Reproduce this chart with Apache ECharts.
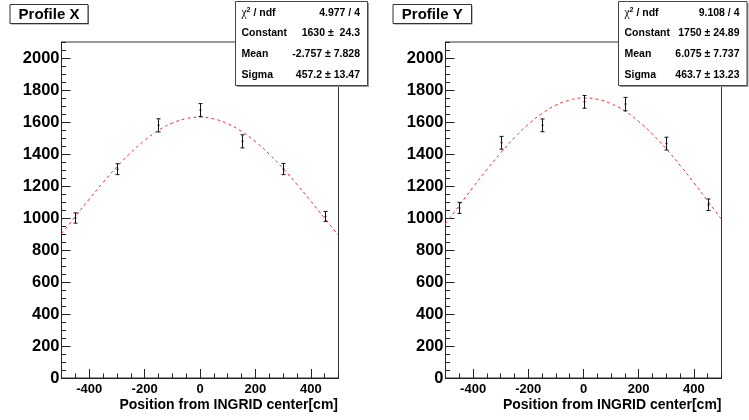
<!DOCTYPE html>
<html><head><meta charset="utf-8">
<script src="https://cdn.jsdelivr.net/npm/echarts@6/dist/echarts.min.js"></script>
<style>html,body{margin:0;padding:0;background:#fff}#c{width:749px;height:420px}</style>
</head><body><div id="c"></div>
<script>
// ---- data ----
const xPositions = [-450, -300, -150, 0, 150, 300, 450];
const profileXValues = [1000, 1305, 1579, 1675, 1479, 1306, 1010];
const profileXErrors = [32, 34, 41, 40, 41, 35, 31];
const profileYValues = [1063, 1470, 1579, 1726, 1712, 1465, 1083];
const profileYErrors = [35, 40, 40, 40, 42, 40, 36];
const fitPositions = [-500, -450, -400, -350, -300, -250, -200, -150, -100, -50, 0, 50, 100, 150, 200, 250, 300, 350, 400, 450, 500];
const fitXValues = [902, 1010, 1118, 1222, 1320, 1408, 1485, 1548, 1593, 1621, 1630, 1619, 1589, 1541, 1477, 1399, 1309, 1210, 1106, 998, 890];
const fitYValues = [965, 1079, 1193, 1303, 1407, 1502, 1585, 1654, 1705, 1737, 1750, 1742, 1714, 1668, 1603, 1524, 1432, 1329, 1220, 1107, 992];
const xTickLabels = [-400, -200, 0, 200, 400];
const yTickLabels = [0, 200, 400, 600, 800, 1000, 1200, 1400, 1600, 1800, 2000];
const panelTitles = ['Profile X', 'Profile Y'];
const statsX = [['4.977 / 4'], ['1630 \u00b1  24.3'], ['-2.757 \u00b1 7.828'], ['457.2 \u00b1 13.47']];
const statsY = [['9.108 / 4'], ['1750 \u00b1 24.89'], ['6.075 \u00b1 7.737'], ['463.7 \u00b1 13.23']];
const statNames = ['Constant', 'Mean', 'Sigma'];
const xAxisTitle = 'Position from INGRID center[cm]';

const FONT = '"Liberation Sans", Arial, Helvetica, sans-serif';
const chart = echarts.init(document.getElementById('c'), null, {renderer: 'canvas'});

const grids = [
  {left: 61.5, top: 42, width: 277, height: 336},
  {left: 445.5, top: 42, width: 276, height: 336}
];
const plain = v => String(v);

function mainX(gi) {
  return {type: 'value', gridIndex: gi, min: -500, max: 500, position: 'bottom',
    axisLine: {show: true, onZero: false, lineStyle: {color: '#222', width: 1}},
    axisTick: {show: true, inside: true, length: 9, customValues: xTickLabels, lineStyle: {color: '#222'}},
    axisLabel: {customValues: xTickLabels, formatter: plain, fontSize: 13, fontWeight: 'bold', color: '#000', margin: 5, fontFamily: FONT},
    splitLine: {show: false}};
}
function minorX(gi) {
  return {type: 'value', gridIndex: gi, min: -500, max: 500, interval: 50, position: 'bottom',
    axisLine: {show: false, onZero: false}, axisLabel: {show: false}, splitLine: {show: false},
    axisTick: {show: true, inside: true, length: 4.5, lineStyle: {color: '#222'}}};
}
function mainY(gi) {
  return {type: 'value', gridIndex: gi, min: 0, max: 2100, position: 'left',
    axisLine: {show: true, onZero: false, lineStyle: {color: '#222', width: 1}},
    axisTick: {show: true, inside: true, length: 9, customValues: yTickLabels, lineStyle: {color: '#222'}},
    axisLabel: {customValues: yTickLabels, formatter: plain, fontSize: 16.5, fontWeight: 'bold', color: '#000', margin: 2, fontFamily: FONT},
    splitLine: {show: false}};
}
function minorY(gi) {
  return {type: 'value', gridIndex: gi, min: 0, max: 2100, interval: 50, position: 'left',
    axisLine: {show: false, onZero: false}, axisLabel: {show: false}, splitLine: {show: false},
    axisTick: {show: true, inside: true, length: 4.5, lineStyle: {color: '#222'}}};
}

function errorSeries(ai, values, errors) {
  return {
    type: 'custom', xAxisIndex: ai, yAxisIndex: ai, z: 5,
    data: xPositions.map((x, i) => [x, values[i], errors[i]]),
    renderItem: (params, api) => {
      const x = api.value(0), y = api.value(1), e = api.value(2);
      const t = api.coord([x, y + e]), b = api.coord([x, y - e]), c = api.coord([x, y]);
      const px = Math.round(t[0]) + 0.5;
      const st = {stroke: '#111', lineWidth: 1};
      const w = 2;
      return {type: 'group', children: [
        {type: 'line', shape: {x1: px, y1: t[1], x2: px, y2: b[1]}, style: st},
        {type: 'line', shape: {x1: px - w, y1: t[1], x2: px + w, y2: t[1]}, style: st},
        {type: 'line', shape: {x1: px - w, y1: b[1], x2: px + w, y2: b[1]}, style: st},
        {type: 'circle', shape: {cx: px, cy: c[1], r: 1}, style: {fill: '#111'}}
      ]};
    }
  };
}
function fitSeries(ai, values) {
  return {type: 'line', xAxisIndex: ai, yAxisIndex: ai, smooth: true, symbol: 'none', clip: true, z: 3,
    data: fitPositions.map((x, i) => [x, values[i]]),
    lineStyle: {color: '#ff2a2a', width: 1, type: [3, 3]}};
}

function titleBox(x, y, w, h, txt) {
  return {type: 'group', z: 100, children: [
    {type: 'rect', shape: {x: x + 1, y: y + 1, width: w, height: h}, style: {fill: '#888'}},
    {type: 'rect', shape: {x: x, y: y, width: w, height: h}, style: {fill: '#fff', stroke: '#333', lineWidth: 1}},
    {type: 'text', x: x + w / 2, y: y + h / 2 + 0.5, style: {text: txt, font: 'bold 15px ' + FONT, fill: '#000', align: 'center', verticalAlign: 'middle'}}
  ]};
}
function statsBox(x, y, w, h, stats) {
  const rowY = [12.7, 33.5, 54.5, 75];
  const ch = [
    {type: 'rect', shape: {x: x + 1.5, y: y + 1.5, width: w, height: h}, style: {fill: '#999'}},
    {type: 'rect', shape: {x: x, y: y, width: w, height: h}, style: {fill: '#fff', stroke: '#444', lineWidth: 1}},
    {type: 'text', x: x + 6, y: rowY[0], style: {
      text: '{g|\u03c7}{s|2}{n| / ndf}', fill: '#000', verticalAlign: 'middle', align: 'left',
      rich: {g: {font: '11.5px "Liberation Serif", "DejaVu Serif", serif', fill: '#000'},
             s: {font: 'bold 7px ' + FONT, fill: '#000', verticalAlign: 'top', padding: [0, 0, 6, 0]},
             n: {font: 'bold 10.5px ' + FONT, fill: '#000'}}}},
    {type: 'text', x: x + w - 7.5, y: rowY[0], style: {text: stats[0][0], font: 'bold 10.5px ' + FONT, fill: '#000', align: 'right', verticalAlign: 'middle'}}
  ];
  for (let i = 0; i < 3; i++) {
    ch.push({type: 'text', x: x + 6, y: rowY[i + 1], style: {text: statNames[i], font: 'bold 10.5px ' + FONT, fill: '#000', align: 'left', verticalAlign: 'middle'}});
    ch.push({type: 'text', x: x + w - 7.5, y: rowY[i + 1], style: {text: stats[i + 1][0], font: 'bold 10.5px ' + FONT, fill: '#000', align: 'right', verticalAlign: 'middle'}});
  }
  return {type: 'group', z: 100, children: ch};
}
function axisTitle(xr, txt) {
  return {type: 'text', z: 100, x: xr, y: 405.5, style: {text: txt, font: 'bold 14px ' + FONT, fill: '#000', align: 'right', verticalAlign: 'middle'}};
}

chart.setOption({
  animation: false,
  backgroundColor: '#fff',
  grid: grids.map(g => Object.assign({show: true, borderColor: '#333', borderWidth: 1, backgroundColor: '#fff'}, g)),
  xAxis: [mainX(0), minorX(0), mainX(1), minorX(1)],
  yAxis: [mainY(0), minorY(0), mainY(1), minorY(1)],
  series: [
    fitSeries(0, fitXValues), errorSeries(0, profileXValues, profileXErrors),
    fitSeries(2, fitYValues), errorSeries(2, profileYValues, profileYErrors)
  ],
  graphic: [
    titleBox(10, 4.5, 78, 19, panelTitles[0]),
    titleBox(393, 4.5, 78.5, 19, panelTitles[1]),
    statsBox(235.5, 1.5, 132, 84, statsX),
    statsBox(618.5, 1.5, 128.5, 84, statsY),
    axisTitle(338, xAxisTitle),
    axisTitle(721.5, xAxisTitle)
  ]
});
</script></body></html>
